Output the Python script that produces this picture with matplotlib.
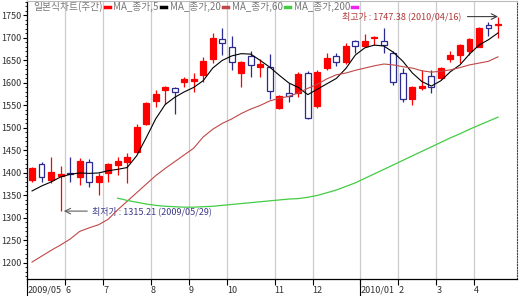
import numpy as np
import pandas as pd
import matplotlib
matplotlib.use('Agg')
import matplotlib.pyplot as plt
from matplotlib.lines import Line2D

plt.rcParams['font.family'] = ['Noto Sans CJK KR', 'DejaVu Sans']

# weekly candles, week ending friday (2009/05/08 .. 2010/04/16)
dates = pd.date_range('2009-05-08', periods=50, freq='W-FRI')
dates = dates.where(dates != pd.Timestamp('2010-01-01'), pd.Timestamp('2009-12-30'))

opens = [1384, 1420, 1384, 1393, 1400, 1391, 1424, 1380, 1400, 1418,
         1424, 1447, 1509, 1560, 1584, 1589, 1602, 1604, 1618, 1653,
         1698, 1680, 1622, 1660, 1636, 1636, 1544, 1578, 1578, 1622,
         1549, 1633, 1660, 1647, 1693, 1682, 1700, 1693, 1667, 1622,
         1564, 1589, 1616, 1611, 1653, 1662, 1671, 1680, 1729, 1729]
highs = [1413, 1424, 1435, 1415, 1435, 1433, 1431, 1400, 1422, 1435,
         1444, 1509, 1558, 1584, 1593, 1591, 1613, 1622, 1658, 1711,
         1722, 1704, 1649, 1671, 1653, 1664, 1573, 1600, 1624, 1627,
         1629, 1667, 1667, 1689, 1696, 1709, 1704, 1722, 1671, 1633,
         1593, 1629, 1629, 1636, 1671, 1686, 1700, 1724, 1736, 1747.38]
lows = [1380, 1380, 1378, 1315.21, 1380, 1373, 1369, 1351, 1380, 1396,
        1378, 1447, 1507, 1547, 1553, 1531, 1591, 1580, 1602, 1644,
        1662, 1629, 1591, 1613, 1613, 1564, 1542, 1558, 1569, 1520,
        1544, 1629, 1638, 1642, 1667, 1682, 1684, 1667, 1595, 1558,
        1551, 1584, 1578, 1609, 1647, 1644, 1662, 1680, 1704, 1700]
closes = [1411, 1391, 1402, 1397, 1398, 1427, 1380, 1393, 1420, 1427,
          1435, 1502, 1556, 1576, 1591, 1580, 1609, 1609, 1649, 1700,
          1689, 1647, 1647, 1640, 1642, 1582, 1571, 1571, 1620, 1522,
          1624, 1656, 1647, 1682, 1682, 1693, 1702, 1684, 1602, 1564,
          1591, 1593, 1591, 1633, 1662, 1684, 1698, 1722, 1722, 1731]

ma5 = [1360, 1371, 1380, 1391, 1397, 1400, 1399, 1400, 1405, 1408,
       1412, 1438, 1478, 1520, 1552, 1568, 1580, 1590, 1605, 1633,
       1650, 1660, 1665, 1664, 1650, 1635, 1617, 1600, 1590, 1574,
       1586, 1598, 1610, 1632, 1662, 1678, 1684, 1682, 1668, 1648,
       1622, 1603, 1593, 1605, 1625, 1640, 1664, 1684, 1696, 1711]
ma20 = [1202, 1215, 1228, 1240, 1253, 1270, 1278, 1285, 1297, 1318,
        1337, 1356, 1375, 1394, 1410, 1425, 1440, 1455, 1480, 1497,
        1510, 1520, 1532, 1542, 1550, 1560, 1566, 1570, 1578, 1588,
        1597, 1609, 1618, 1622, 1628, 1633, 1638, 1642, 1640, 1636,
        1633, 1627, 1624, 1626, 1629, 1634, 1640, 1644, 1648, 1658]
ma60_start = 9
ma60 = [1344, 1339, 1335, 1331, 1328, 1326, 1325, 1324, 1324, 1325,
        1326, 1328, 1330, 1332, 1334, 1336, 1338, 1340, 1342, 1343,
        1346, 1350, 1356, 1362, 1370, 1378, 1388, 1398, 1408, 1418,
        1428, 1438, 1448, 1458, 1468, 1478, 1487, 1497, 1506, 1515, 1524]

legend_items = [('일본식차트(주간)', '#ff0000'), ('MA_종가,5', '#000000'),
                ('MA_종가,20', '#c04848'), ('MA_종가,60', '#44cc44'),
                ('MA_종가,200', '#ee22ee')]

UP = '#ff0000'
DOWN = '#2a2a90'

fig = plt.figure(figsize=(5.2, 2.96), dpi=100)
ax = fig.add_axes([27/520, 17/296, 490/520, 278/296])

x = np.arange(len(closes))
o = np.array(opens); c = np.array(closes)
h = np.array(highs); l = np.array(lows)

# month grid / ticks
months = dates.month
mpos, mlab, years = [], [], []
for i in range(len(dates)):
    if i == 0 or months[i] != months[i-1]:
        mpos.append(i - 0.5)
        if i == 0 or months[i] == 1:
            mlab.append(dates[i].strftime('%Y/%m'))
            years.append(i - 0.5)
        else:
            mlab.append(str(months[i]))
for p in mpos[1:]:
    ax.axvline(p, color='#cccccc', lw=0.9, zorder=0)

# candles
w = 0.62
for i in x:
    up = c[i] >= o[i]
    col = UP if up else DOWN
    ax.vlines(i, l[i], h[i], color=col, lw=0.9, zorder=2)
    lo, hi = min(o[i], c[i]), max(o[i], c[i])
    ax.bar(i, max(hi - lo, 0.8), w, bottom=lo, color=UP if up else 'white',
           edgecolor=col, lw=0.9, zorder=3)

ax.plot(x, ma5, color='black', lw=0.8, zorder=4)
ax.plot(x, ma20, color='#c04848', lw=0.8, zorder=4)
ax.plot(x[ma60_start:], ma60, color='#44cc44', lw=0.9, zorder=4)

# high / low notes
ih = int(np.argmax(h)); il = int(np.argmin(l))
ax.annotate('', xy=(ih + 0.3, h[ih]), xytext=(45.5, h[ih]),
            arrowprops=dict(arrowstyle='->', color='#404040', lw=0.8))
ax.text(45.2, h[ih], '최고가 : %.2f (%s)' % (h[ih], dates[ih].strftime('%Y/%m/%d')),
        ha='right', va='center', fontsize=6.5, color='#b03838')
ax.annotate('', xy=(il + 0.05, l[il]), xytext=(6.1, l[il]),
            arrowprops=dict(arrowstyle='->', color='#606060', lw=0.8))
ax.text(6.3, l[il], '최저가 : %.2f (%s)' % (l[il], dates[il].strftime('%Y/%m/%d')),
        ha='left', va='center', fontsize=6.5, color='#3a3a8c')

ax.set_xlim(-0.53, 51.0)
ax.set_ylim(1164.4, 1782)

ax.set_yticks(np.arange(1200, 1751, 50))
ax.set_yticks(np.arange(1170, 1781, 10), minor=True)
ax.tick_params(axis='y', which='major', length=3, width=0.8, labelsize=6.5,
               labelcolor='#303030', pad=1)
ax.tick_params(axis='y', which='minor', length=1.5, width=0.6)

ax.set_xticks(mpos)
ax.set_xticklabels(mlab)
ax.tick_params(axis='x', length=4, width=0.8, labelsize=6.5, labelcolor='#303030', pad=1)
for t in ax.get_xticklabels():
    t.set_ha('left')
for p in years:
    ax.plot([p, p], [0, -0.06], color='black', lw=0.8,
            transform=ax.get_xaxis_transform(), clip_on=False)

ax.spines['top'].set_color('#bbbbbb')
ax.spines['right'].set_linestyle((0, (1, 1.5)))
ax.spines['right'].set_color('#444444')
ax.spines['left'].set_linewidth(0.9)
ax.spines['bottom'].set_linewidth(0.9)

# legend row
fig.canvas.draw()
r = fig.canvas.get_renderer()
px = 33
for lab, col in legend_items:
    t = fig.text(px/520, 1 - 7/296, lab, fontsize=7, color='#777777', va='center', ha='left')
    bb = t.get_window_extent(renderer=r)
    px = bb.x1 + 2
    fig.add_artist(Line2D([px/520, (px + 5)/520], [1 - 7/296, 1 - 7/296],
                          color=col, lw=2.5, transform=fig.transFigure))
    px += 9

fig.savefig('out.png', dpi=100)
